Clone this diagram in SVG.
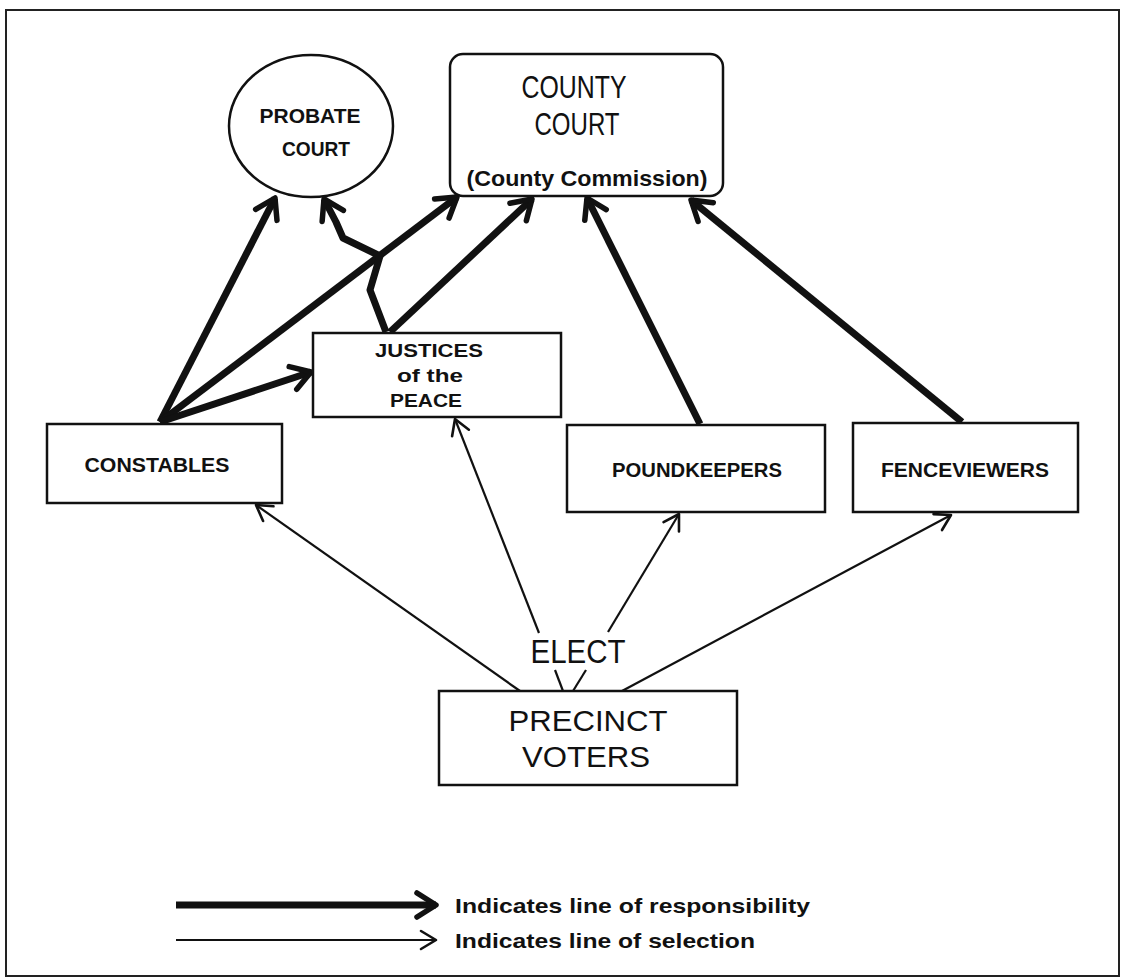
<svg xmlns="http://www.w3.org/2000/svg" width="1124" height="979" viewBox="0 0 1124 979">
<style>
.box{fill:#fff;stroke:#111;stroke-width:2.5}
.b{font-family:"Liberation Sans",Arial,sans-serif;font-weight:bold;fill:#111;text-anchor:middle}
.r{font-family:"Liberation Sans",Arial,sans-serif;fill:#111;text-anchor:middle}
.thick{fill:none;stroke:#111;stroke-width:7;stroke-linejoin:round}
.thin{fill:none;stroke:#111;stroke-width:2.2}
</style>
<defs>
<marker id="ahT" viewBox="-24 -16 30 32" markerWidth="30" markerHeight="32" refX="0" refY="0" orient="auto" markerUnits="userSpaceOnUse">
<path d="M-19,-12 L0,0 L-19,12" fill="none" stroke="#111" stroke-width="5.5" stroke-linejoin="round" stroke-linecap="round"/>
</marker>
<marker id="ahN" viewBox="-20 -14 24 28" markerWidth="24" markerHeight="28" refX="0" refY="0" orient="auto" markerUnits="userSpaceOnUse">
<path d="M-15,-9 L0,0 L-15,9" fill="none" stroke="#111" stroke-width="2.6" stroke-linejoin="round" stroke-linecap="round"/>
</marker>
</defs>
<rect width="1124" height="979" fill="#fff"/>
<rect x="6" y="10" width="1113" height="966" fill="none" stroke="#222" stroke-width="2"/>

<g id="connectors">
<line class="thick" x1="160" y1="422" x2="275" y2="198" marker-end="url(#ahT)"/>
<line class="thick" x1="160" y1="422" x2="457" y2="197" marker-end="url(#ahT)"/>
<line class="thick" x1="160" y1="422" x2="311" y2="372" marker-end="url(#ahT)"/>
<line class="thick" x1="390" y1="332" x2="532" y2="199" marker-end="url(#ahT)"/>
<polyline class="thick" points="386,332 370,290 380,256 343,238 336,222 324,199" marker-end="url(#ahT)"/>
<line class="thick" x1="700" y1="424" x2="587" y2="198" marker-end="url(#ahT)"/>
<line class="thick" x1="962" y1="422" x2="691" y2="200" marker-end="url(#ahT)"/>
<line class="thin" x1="520" y1="691" x2="256" y2="505" marker-end="url(#ahN)"/>
<line class="thin" x1="563" y1="691" x2="555" y2="670"/>
<line class="thin" x1="539" y1="633" x2="455" y2="419" marker-end="url(#ahN)"/>
<line class="thin" x1="573" y1="691" x2="586" y2="670"/>
<line class="thin" x1="608" y1="632" x2="679" y2="514" marker-end="url(#ahN)"/>
<line class="thin" x1="622" y1="691" x2="951" y2="515" marker-end="url(#ahN)"/>
</g>

<g id="probate-court">
<ellipse class="box" cx="311" cy="126" rx="82" ry="71"/>
<text class="b" x="310" y="123" font-size="21" textLength="101" lengthAdjust="spacingAndGlyphs">PROBATE</text>
<text class="b" x="316" y="156" font-size="21" textLength="68" lengthAdjust="spacingAndGlyphs">COURT</text>
</g>

<g id="county-court">
<rect class="box" x="450" y="54" width="273" height="142" rx="13"/>
<text class="r" x="574" y="98" font-size="31" textLength="105" lengthAdjust="spacingAndGlyphs">COUNTY</text>
<text class="r" x="577" y="135" font-size="31" textLength="85" lengthAdjust="spacingAndGlyphs">COURT</text>
<text class="b" x="587" y="186" font-size="22" textLength="241" lengthAdjust="spacingAndGlyphs">(County Commission)</text>
</g>

<g id="justices">
<rect class="box" x="313" y="333" width="248" height="84"/>
<text class="b" x="429" y="357" font-size="19" textLength="108" lengthAdjust="spacingAndGlyphs">JUSTICES</text>
<text class="b" x="430" y="382" font-size="19" textLength="66" lengthAdjust="spacingAndGlyphs">of the</text>
<text class="b" x="426" y="407" font-size="19" textLength="72" lengthAdjust="spacingAndGlyphs">PEACE</text>
</g>

<g id="constables">
<rect class="box" x="47" y="424" width="235" height="79"/>
<text class="b" x="157" y="472" font-size="21" textLength="145" lengthAdjust="spacingAndGlyphs">CONSTABLES</text>
</g>

<g id="poundkeepers">
<rect class="box" x="567" y="425" width="258" height="87"/>
<text class="b" x="697" y="477" font-size="21" textLength="170" lengthAdjust="spacingAndGlyphs">POUNDKEEPERS</text>
</g>

<g id="fenceviewers">
<rect class="box" x="853" y="423" width="225" height="89"/>
<text class="b" x="965" y="477" font-size="21" textLength="168" lengthAdjust="spacingAndGlyphs">FENCEVIEWERS</text>
</g>

<g id="elect">
<text class="r" x="578" y="663" font-size="34" textLength="95" lengthAdjust="spacingAndGlyphs">ELECT</text>
</g>

<g id="precinct-voters">
<rect class="box" x="439" y="691" width="298" height="94"/>
<text class="r" x="588" y="731" font-size="30" textLength="159" lengthAdjust="spacingAndGlyphs">PRECINCT</text>
<text class="r" x="586" y="767" font-size="30" textLength="128" lengthAdjust="spacingAndGlyphs">VOTERS</text>
</g>

<g id="legend">
<line class="thick" x1="176" y1="905" x2="436" y2="905" marker-end="url(#ahT)"/>
<line class="thin" x1="176" y1="940" x2="436" y2="940" marker-end="url(#ahN)"/>
<text class="b" x="455" y="913" font-size="21" style="text-anchor:start" textLength="355" lengthAdjust="spacingAndGlyphs">Indicates line of responsibility</text>
<text class="b" x="455" y="948" font-size="21" style="text-anchor:start" textLength="300" lengthAdjust="spacingAndGlyphs">Indicates line of selection</text>
</g>
</svg>
